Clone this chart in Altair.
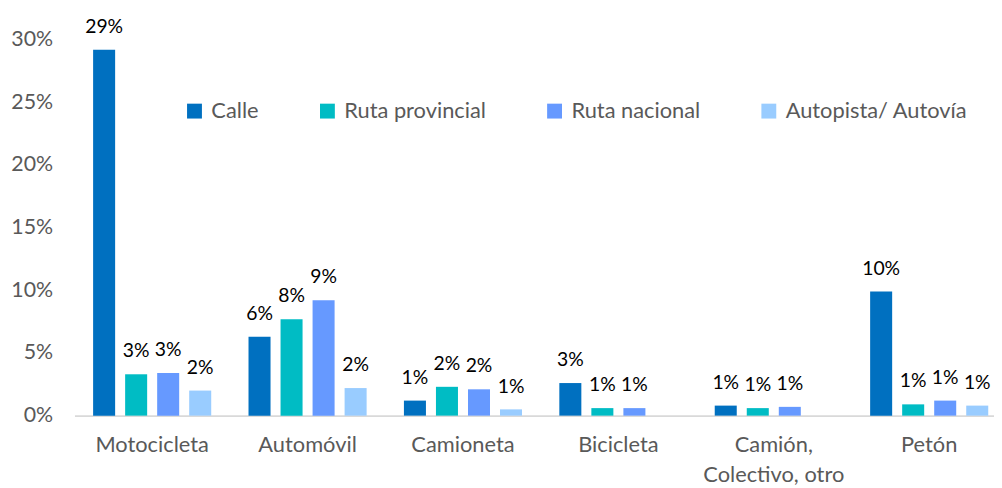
import altair as alt
import pandas as pd

categories = ["Motocicleta", "Automóvil", "Camioneta", "Bicicleta", "Camión,\nColectivo, otro", "Petón"]
series = ["Calle", "Ruta provincial", "Ruta nacional", "Autopista/ Autovía"]
colors = ["#0070C0", "#00BCC4", "#6699FF", "#99CCFF"]

calle = [0.292, 0.063, 0.012, 0.026, 0.008, 0.099]
ruta_provincial = [0.033, 0.077, 0.023, 0.006, 0.006, 0.009]
ruta_nacional = [0.034, 0.092, 0.021, 0.006, 0.007, 0.012]
autopista = [0.020, 0.022, 0.005, None, None, 0.008]

values = [calle, ruta_provincial, ruta_nacional, autopista]
rows = []
for s, vals in zip(series, values):
    for c, v in zip(categories, vals):
        if v is not None:
            rows.append({"Tipo": c, "Via": s, "Valor": v})
df = pd.DataFrame(rows)

FONT = "Lato"

x = alt.X("Tipo:N", sort=categories, title=None,
          scale=alt.Scale(paddingInner=0.24, paddingOuter=0.12, range=[0, 940]),
          axis=alt.Axis(labelAngle=0, labelFontSize=22, labelColor="#595959",
                        labelFont=FONT, labelPadding=19, labelLineHeight=30,
                        labelExpr="split(datum.label, '\\n')",
                        ticks=False, domainColor="#D9D9D9", domainWidth=2))
xo = alt.XOffset("Via:N", sort=series,
                 scale=alt.Scale(paddingInner=0.3125, paddingOuter=0))
y = alt.Y("Valor:Q", title=None,
          scale=alt.Scale(domain=[0, 0.30], nice=False),
          axis=alt.Axis(values=[0, 0.05, 0.10, 0.15, 0.20, 0.25, 0.30], format=".0%",
                        grid=False, domain=False, ticks=False, labelPadding=22,
                        labelFontSize=21.5, labelColor="#595959", labelFont=FONT))
color = alt.Color("Via:N", sort=series, title=None,
                  scale=alt.Scale(domain=series, range=colors),
                  legend=alt.Legend(orient="none", legendX=110, legendY=61,
                                    direction="horizontal", symbolType="square",
                                    symbolSize=225, symbolStrokeWidth=0,
                                    labelFontSize=22, labelFont=FONT, labelColor="#595959",
                                    labelLimit=400, columnPadding=58, labelOffset=6))

bars = alt.Chart(df).mark_bar().encode(x=x, xOffset=xo, y=y, color=color)
labels = alt.Chart(df).mark_text(baseline="bottom", dy=-13, fontSize=19.5,
                                 font=FONT, color="#000000").encode(
    x=x, xOffset=xo, y=y, text=alt.Text("Valor:Q", format=".0%"))

chart = (bars + labels).properties(
    width=925, height=379,
    autosize=alt.AutoSizeParams(type="none"),
    padding={"left": 67, "top": 30, "right": 2, "bottom": 70},
).configure(background="white").configure_view(stroke=None, strokeWidth=0)

chart.save("out.html", embed_options={"renderer": "svg", "actions": False})
